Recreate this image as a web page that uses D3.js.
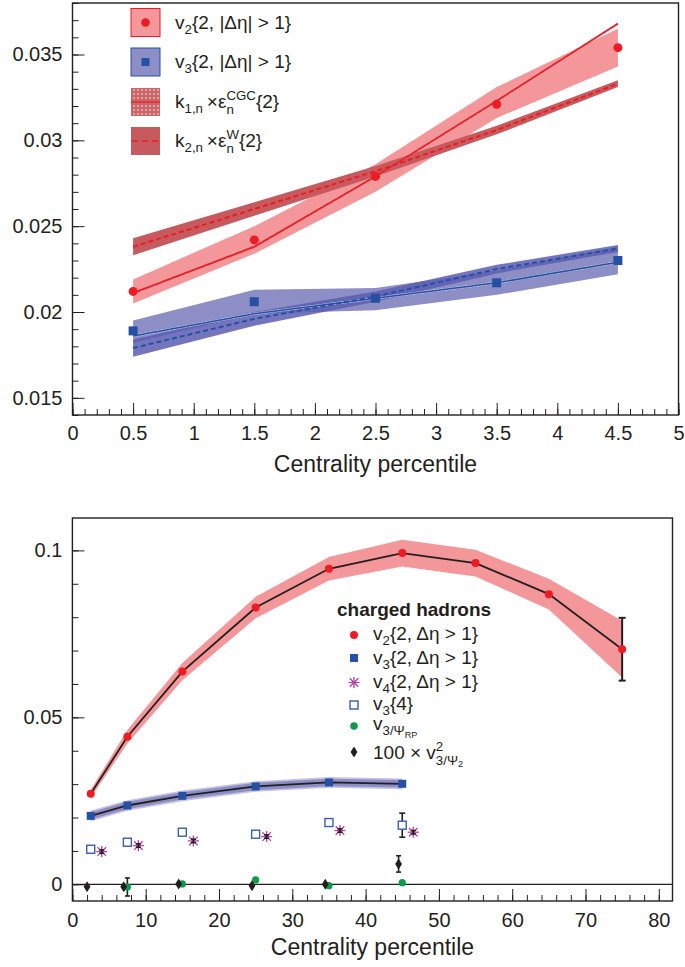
<!DOCTYPE html>
<html><head><meta charset="utf-8">
<script src="https://cdn.jsdelivr.net/npm/d3@7"></script>
<style>
body{margin:0;background:#fff}
svg{display:block}
text{font-family:"Liberation Sans",Arial,Helvetica,sans-serif;fill:#231f20}
</style>
</head><body>
<svg id="c" width="685" height="967"></svg>
<script>
// ================= TOP PANEL DATA =================
const topX      = [0.5, 1.5, 2.5, 3.5, 4.5];
const v2Top     = [0.0212, 0.0242, 0.0279, 0.0321, 0.0354];
const v2TopLo   = [0.0205, 0.0234, 0.0270, 0.0313, 0.0343];
const v2TopHi   = [0.0219, 0.0250, 0.0286, 0.0331, 0.0365];
const v3Top     = [0.0189, 0.0206, 0.0208, 0.0217, 0.0230];
const v3TopLo   = [0.0182, 0.0199, 0.0201, 0.0210, 0.0222];
const v3TopHi   = [0.0195, 0.0213, 0.0214, 0.0224, 0.0238];
const cgcV2     = [0.0211, 0.0238, 0.0279, 0.0323, 0.0368];
const cgcV3     = [0.0186, 0.0199, 0.0208, 0.0217, 0.0229];
const cgcErr    = [0.00007, 0.00007, 0.00007, 0.00007, 0.00007];
const wV2       = [0.0238, 0.0260, 0.0282, 0.0306, 0.0333];
const wV3       = [0.0179, 0.0196, 0.0209, 0.0225, 0.0237];
const wErr      = [0.0005, 0.0004, 0.0003, 0.00025, 0.0002];
const topXTicks = [0, 0.5, 1, 1.5, 2, 2.5, 3, 3.5, 4, 4.5, 5];
const topXLabels = ["0","0.5","1","1.5","2","2.5","3","3.5","4","4.5","5"];
const topYTicks = [0.015, 0.02, 0.025, 0.03, 0.035];
const topYLabels = ["0.015","0.02","0.025","0.03","0.035"];

// ================= BOTTOM PANEL DATA =================
const v2X   = [2.5, 7.5, 15, 25, 35, 45, 55, 65, 75];
const v2B   = [0.0271, 0.0442, 0.0637, 0.0829, 0.0945, 0.0992, 0.0962, 0.0869, 0.0704];
const v2Sys = [0.0012, 0.0020, 0.0026, 0.0032, 0.0035, 0.0040, 0.0040, 0.0046, 0.0085];
const v2Err = [0, 0, 0, 0, 0, 0, 0, 0, 0.0094];
const v3X   = [2.5, 7.5, 15, 25, 35, 45];
const v3B   = [0.0205, 0.0236, 0.0265, 0.0293, 0.0305, 0.0301];
const v3Sys = [0.0011, 0.0011, 0.0011, 0.0011, 0.0011, 0.0011];
const v4X   = [4, 9, 16.5, 26.5, 36.5, 46.5];
const v4B   = [0.0098, 0.0116, 0.0130, 0.0143, 0.0161, 0.0156];
const v4Err = [0.0005, 0.0005, 0.0005, 0.0005, 0.0005, 0.0005];
const v34X  = [2.5, 7.5, 15, 25, 35, 45];
const v34B  = [0.0105, 0.0126, 0.0156, 0.0150, 0.0185, 0.0177];
const v34Err= [0, 0, 0, 0.0008, 0.0010, 0.0036];
const rpX   = [7.5, 15, 25, 35, 45];
const rpB   = [-0.0008, 0.0001, 0.0013, -0.0004, 0.0005];
const rpErr = [0.0027, 0, 0, 0, 0];
const psX   = [2, 7, 14.5, 24.5, 34.5, 44.5];
const psB   = [-0.0007, -0.0007, 0.0001, -0.0004, 0.0000, 0.0061];
const psErr = [0, 0, 0, 0, 0, 0.00245];
const botXTicks = [0, 10, 20, 30, 40, 50, 60, 70, 80];
const botXLabels = ["0","10","20","30","40","50","60","70","80"];
const botYTicks = [0, 0.05, 0.1];
const botYLabels = ["0","0.05","0.1"];

// ================= COLOURS =================
const ink = '#231f20';
const red = '#ed1c24', pink = '#f4979a', darkRed = '#c65a5e';
const blue = '#2451a4', lightBlue = '#8e8ec6', darkBlue = '#5d5db2';
const magenta = '#b0449a', green = '#0b9b4a';
const FONT = '"Liberation Sans",Arial,Helvetica,sans-serif';

const svg = d3.select('#c');
const defs = svg.append('defs');
const pat = defs.append('pattern').attr('id','dotsR').attr('patternUnits','userSpaceOnUse')
  .attr('width',4).attr('height',4);
pat.append('rect').attr('width',4).attr('height',4).attr('fill','#c8676a');
pat.append('circle').attr('cx',2).attr('cy',2).attr('r',0.9).attr('fill','#f2b6b6');
const patB = defs.append('pattern').attr('id','dotsB').attr('patternUnits','userSpaceOnUse')
  .attr('width',4).attr('height',4);
patB.append('rect').attr('width',4).attr('height',4).attr('fill','#b9b9de');
patB.append('circle').attr('cx',2).attr('cy',2).attr('r',0.9).attr('fill','#ffffff');

// rich text helper (sub/sup)
function rich(g, x, y, parts, size, bold) {
  let cx = x;
  parts.forEach(p => {
    const k = p.k || 'n';
    if (k === 'ss') {
      const a = g.append('text').attr('x', cx).attr('y', y - size*0.42)
        .style('font-size', (size*0.7)+'px').text(p.sup);
      const b = g.append('text').attr('x', cx).attr('y', y + size*0.3)
        .style('font-size', (size*0.7)+'px').text(p.sub);
      cx += Math.max(a.node().getComputedTextLength(), b.node().getComputedTextLength());
    } else {
      let fs = size, dy = 0;
      if (k === 'sub') { fs = size*0.7; dy = size*0.28; }
      if (k === 'sup') { fs = size*0.7; dy = -size*0.42; }
      if (k === 'subsub') { fs = size*0.48; dy = size*0.4; }
      const t = g.append('text').attr('x', cx).attr('y', y + dy)
        .style('font-size', fs+'px').style('font-weight', bold ? 'bold' : null).text(p.t);
      cx += t.node().getComputedTextLength();
    }
  });
}

function styleAxis(g, fs) {
  g.select('.domain').remove();
  g.attr('font-family', FONT).attr('font-size', fs);
  g.selectAll('line').attr('stroke', ink).attr('stroke-width', 1);
  g.selectAll('text').attr('fill', ink);
}

// ================= TOP PANEL =================
const T = {l:72.5, r:678.5, t:3, b:415};
const xT = d3.scaleLinear().domain([0, 5]).range([T.l, T.r]);
const yT = d3.scaleLinear().domain([0.014, 0.038]).range([T.b, T.t]);
const gT = svg.append('g');

const band = (xs, xsc, ysc, lo, hi) => d3.area()
  .x((d,i) => xsc(xs[i])).y0((d,i) => ysc(lo[i])).y1((d,i) => ysc(hi[i]));
const lineOf = (xs, xsc, ysc) => d3.line().x((d,i) => xsc(xs[i])).y(d => ysc(d));

// data systematic bands
gT.append('path').attr('d', band(topX, xT, yT, v2TopLo, v2TopHi)(topX)).attr('fill', pink);
gT.append('path').attr('d', band(topX, xT, yT, v3TopLo, v3TopHi)(topX)).attr('fill', lightBlue);
// Wounded model bands
gT.append('path').attr('d', band(topX, xT, yT, wV2.map((v,i)=>v-wErr[i]), wV2.map((v,i)=>v+wErr[i]))(topX)).attr('fill', darkRed);
gT.append('path').attr('d', band(topX, xT, yT, wV3.map((v,i)=>v-wErr[i]), wV3.map((v,i)=>v+wErr[i]))(topX)).attr('fill', darkBlue).attr('opacity',0.85);
// CGC bands
gT.append('path').attr('d', band(topX, xT, yT, cgcV2.map((v,i)=>v-cgcErr[i]), cgcV2.map((v,i)=>v+cgcErr[i]))(topX)).attr('fill', 'url(#dotsR)');
gT.append('path').attr('d', band(topX, xT, yT, cgcV3.map((v,i)=>v-cgcErr[i]), cgcV3.map((v,i)=>v+cgcErr[i]))(topX)).attr('fill', 'url(#dotsB)');
// lines
gT.append('path').attr('d', lineOf(topX, xT, yT)(wV2)).attr('fill','none').attr('stroke', red).attr('stroke-width',2).attr('stroke-dasharray','5,3');
gT.append('path').attr('d', lineOf(topX, xT, yT)(wV3)).attr('fill','none').attr('stroke', blue).attr('stroke-width',2).attr('stroke-dasharray','5,3');
gT.append('path').attr('d', lineOf(topX, xT, yT)(cgcV2)).attr('fill','none').attr('stroke', red).attr('stroke-width',1.6);
gT.append('path').attr('d', lineOf(topX, xT, yT)(cgcV3)).attr('fill','none').attr('stroke', blue).attr('stroke-width',1.6);
// markers
gT.selectAll('.v2t').data(v2Top).enter().append('circle')
  .attr('cx', (d,i) => xT(topX[i])).attr('cy', d => yT(d)).attr('r', 4.5).attr('fill', red);
gT.selectAll('.v3t').data(v3Top).enter().append('rect')
  .attr('x', (d,i) => xT(topX[i]) - 4.5).attr('y', d => yT(d) - 4.5).attr('width', 9).attr('height', 9).attr('fill', blue);

// axes
const axTx = gT.append('g').attr('transform', `translate(0,${T.b})`)
  .call(d3.axisBottom(xT).tickValues(topXTicks).tickSize(-12).tickPadding(11).tickFormat((d,i)=>topXLabels[i]));
styleAxis(axTx, 20);
const axTxm = gT.append('g').attr('transform', `translate(0,${T.b})`)
  .call(d3.axisBottom(xT).tickValues(d3.range(0, 51).map(i => i/10)).tickSize(-6).tickFormat(''));
styleAxis(axTxm, 20);
const axTy = gT.append('g').attr('transform', `translate(${T.l},0)`)
  .call(d3.axisLeft(yT).tickValues(topYTicks).tickSize(-12).tickPadding(10).tickFormat((d,i)=>topYLabels[i]));
styleAxis(axTy, 20);
const axTym = gT.append('g').attr('transform', `translate(${T.l},0)`)
  .call(d3.axisLeft(yT).tickValues(d3.range(14, 39).map(i => i/1000)).tickSize(-6).tickFormat(''));
styleAxis(axTym, 20);
gT.append('rect').attr('x', T.l).attr('y', T.t).attr('width', T.r - T.l).attr('height', T.b - T.t)
  .attr('fill','none').attr('stroke', ink).attr('stroke-width', 1.4);
gT.append('text').attr('x', (T.l+T.r)/2).attr('y', 472).attr('text-anchor','middle')
  .style('font-size','23px').text('Centrality percentile');

// top legend
const lg = svg.append('g');
const bx = 131, bw = 29, bh = 28;
lg.append('rect').attr('x', bx).attr('y', 8.5).attr('width', bw).attr('height', bh).attr('fill', pink).attr('stroke', red).attr('stroke-width', 1);
lg.append('circle').attr('cx', bx + bw/2).attr('cy', 22.5).attr('r', 4.3).attr('fill', red);
lg.append('rect').attr('x', bx).attr('y', 48).attr('width', bw).attr('height', bh).attr('fill', lightBlue).attr('stroke', blue).attr('stroke-width', 1);
lg.append('rect').attr('x', bx + bw/2 - 4).attr('y', 58).attr('width', 8).attr('height', 8).attr('fill', blue);
lg.append('rect').attr('x', bx).attr('y', 88).attr('width', bw).attr('height', bh).attr('fill', 'url(#dotsR)');
lg.append('line').attr('x1', bx).attr('x2', bx + bw).attr('y1', 102).attr('y2', 102).attr('stroke', red).attr('stroke-width', 1.5);
lg.append('rect').attr('x', bx).attr('y', 127).attr('width', bw).attr('height', bh).attr('fill', darkRed);
lg.append('line').attr('x1', bx + 1).attr('x2', bx + bw).attr('y1', 141).attr('y2', 141).attr('stroke', red).attr('stroke-width', 1.5).attr('stroke-dasharray', '6,4');
rich(lg, 175, 29, [{t:'v'},{t:'2',k:'sub'},{t:'{2, |Δη| > 1}'}], 19);
rich(lg, 175, 68, [{t:'v'},{t:'3',k:'sub'},{t:'{2, |Δη| > 1}'}], 19);
rich(lg, 175, 108, [{t:'k'},{t:'1,n',k:'sub'},{t:'\u2009×ε'},{k:'ss',sup:'CGC',sub:'n'},{t:'{2}'}], 19);
rich(lg, 175, 147, [{t:'k'},{t:'2,n',k:'sub'},{t:'\u2009×ε'},{k:'ss',sup:'W',sub:'n'},{t:'{2}'}], 19);

// ================= BOTTOM PANEL =================
const B = {l:72.4, r:672.5, t:518, b:901};
const xB = d3.scaleLinear().domain([0, 81.87]).range([B.l, B.r]);
const yB = d3.scaleLinear().domain([-0.005, 0.1097]).range([B.b, B.t]);
const gB = svg.append('g');

// zero line
gB.append('line').attr('x1', B.l).attr('x2', B.r).attr('y1', yB(0)).attr('y2', yB(0)).attr('stroke', ink).attr('stroke-width', 1.2);

// bands
gB.append('path').attr('d', band(v2X, xB, yB, v2B.map((v,i)=>v-v2Sys[i]), v2B.map((v,i)=>v+v2Sys[i]))(v2X)).attr('fill', pink);
gB.append('path').attr('d', band(v3X, xB, yB, v3B.map((v,i)=>v-v3Sys[i]-0.0005), v3B.map((v,i)=>v+v3Sys[i]+0.0005))(v3X)).attr('fill', '#c3c3e3');
gB.append('path').attr('d', band(v3X, xB, yB, v3B.map((v,i)=>v-v3Sys[i]), v3B.map((v,i)=>v+v3Sys[i]))(v3X)).attr('fill', lightBlue);
// black lines
gB.append('path').attr('d', lineOf(v2X, xB, yB)(v2B)).attr('fill','none').attr('stroke', ink).attr('stroke-width', 1.8);
gB.append('path').attr('d', lineOf(v3X, xB, yB)(v3B)).attr('fill','none').attr('stroke', ink).attr('stroke-width', 1.8);

// error bars helper
function errBars(g, xs, ys, es, capW, sw) {
  ys.forEach((v, i) => {
    if (!es[i]) return;
    const x = xB(xs[i]), y1 = yB(v - es[i]), y2 = yB(v + es[i]);
    g.append('line').attr('x1', x).attr('x2', x).attr('y1', y1).attr('y2', y2).attr('stroke', ink).attr('stroke-width', sw);
    [y1, y2].forEach(yy => g.append('line').attr('x1', x - capW/2).attr('x2', x + capW/2).attr('y1', yy).attr('y2', yy).attr('stroke', ink).attr('stroke-width', sw));
  });
}

// v2 points
errBars(gB, v2X, v2B, v2Err, 7, 2);
gB.selectAll('.v2b').data(v2B).enter().append('circle')
  .attr('cx', (d,i) => xB(v2X[i])).attr('cy', d => yB(d)).attr('r', 4).attr('fill', red);
// v3 points
gB.selectAll('.v3b').data(v3B).enter().append('rect')
  .attr('x', (d,i) => xB(v3X[i]) - 4).attr('y', d => yB(d) - 4).attr('width', 8).attr('height', 8).attr('fill', blue);
// v4 asterisks
function asterisk(g, cx, cy, s, col) {
  const d = s*0.78;
  g.append('line').attr('x1',cx).attr('x2',cx).attr('y1',cy-s).attr('y2',cy+s).attr('stroke',col).attr('stroke-width',1.3);
  g.append('line').attr('x1',cx-s).attr('x2',cx+s).attr('y1',cy).attr('y2',cy).attr('stroke',col).attr('stroke-width',1.3);
  g.append('line').attr('x1',cx-d).attr('x2',cx+d).attr('y1',cy-d).attr('y2',cy+d).attr('stroke',col).attr('stroke-width',1.3);
  g.append('line').attr('x1',cx-d).attr('x2',cx+d).attr('y1',cy+d).attr('y2',cy-d).attr('stroke',col).attr('stroke-width',1.3);
}
v4B.forEach((v,i) => asterisk(gB, xB(v4X[i]), yB(v), 5.5, magenta));
errBars(gB, v4X, v4B, v4Err, 5, 1.6);
// v3{4} open squares
errBars(gB, v34X, v34B, v34Err, 6, 1.6);
gB.selectAll('.v34').data(v34B).enter().append('rect')
  .attr('x', (d,i) => xB(v34X[i]) - 4).attr('y', d => yB(d) - 4).attr('width', 8).attr('height', 8)
  .attr('fill', '#fff').attr('stroke', '#3b5daa').attr('stroke-width', 1.4);
// green v3/PsiRP
errBars(gB, rpX, rpB, rpErr, 5, 1.6);
gB.selectAll('.rp').data(rpB).enter().append('circle')
  .attr('cx', (d,i) => xB(rpX[i])).attr('cy', d => yB(d)).attr('r', 3.6).attr('fill', green);
// diamonds
errBars(gB, psX, psB, psErr, 5, 1.6);
const diamond = (cx, cy) => `M${cx},${cy-5.5}L${cx+3.4},${cy}L${cx},${cy+5.5}L${cx-3.4},${cy}Z`;
gB.selectAll('.ps').data(psB).enter().append('path')
  .attr('d', (d,i) => diamond(xB(psX[i]), yB(d))).attr('fill', ink);

// axes
const axBx = gB.append('g').attr('transform', `translate(0,${B.b})`)
  .call(d3.axisBottom(xB).tickValues(botXTicks).tickSize(-12).tickPadding(12).tickFormat((d,i)=>botXLabels[i]));
styleAxis(axBx, 20);
const axBxm = gB.append('g').attr('transform', `translate(0,${B.b})`)
  .call(d3.axisBottom(xB).tickValues(d3.range(0, 41).map(i => i*2)).tickSize(-6).tickFormat(''));
styleAxis(axBxm, 20);
const axBy = gB.append('g').attr('transform', `translate(${B.l},0)`)
  .call(d3.axisLeft(yB).tickValues(botYTicks).tickSize(-12).tickPadding(10).tickFormat((d,i)=>botYLabels[i]));
styleAxis(axBy, 20);
const axBym = gB.append('g').attr('transform', `translate(${B.l},0)`)
  .call(d3.axisLeft(yB).tickValues(d3.range(0, 11).map(i => i/100)).tickSize(-6).tickFormat(''));
styleAxis(axBym, 20);
gB.append('rect').attr('x', B.l).attr('y', B.t).attr('width', B.r - B.l).attr('height', B.b - B.t)
  .attr('fill','none').attr('stroke', ink).attr('stroke-width', 1.4);
gB.append('text').attr('x', (B.l+B.r)/2).attr('y', 955).attr('text-anchor','middle')
  .style('font-size','23px').text('Centrality percentile');

// bottom legend
const lb = svg.append('g');
rich(lb, 337, 616, [{t:'charged hadrons'}], 19, true);
const mx = 354;
lb.append('circle').attr('cx', mx).attr('cy', 635).attr('r', 4).attr('fill', red);
lb.append('rect').attr('x', mx-4).attr('y', 654).attr('width', 8).attr('height', 8).attr('fill', blue);
asterisk(lb, mx, 682.5, 5.5, magenta);
lb.append('rect').attr('x', mx-4).attr('y', 701).attr('width', 8).attr('height', 8).attr('fill','#fff').attr('stroke','#3b5daa').attr('stroke-width',1.4);
lb.append('circle').attr('cx', mx).attr('cy', 726).attr('r', 3.8).attr('fill', green);
lb.append('path').attr('d', diamond(mx, 752)).attr('fill', ink);
rich(lb, 373, 640, [{t:'v'},{t:'2',k:'sub'},{t:'{2, Δη > 1}'}], 19);
rich(lb, 373, 664, [{t:'v'},{t:'3',k:'sub'},{t:'{2, Δη > 1}'}], 19);
rich(lb, 373, 688, [{t:'v'},{t:'4',k:'sub'},{t:'{2, Δη > 1}'}], 19);
rich(lb, 373, 710, [{t:'v'},{t:'3',k:'sub'},{t:'{4}'}], 19);
rich(lb, 373, 730, [{t:'v'},{t:'3/Ψ',k:'sub'},{t:'RP',k:'subsub'}], 19);
rich(lb, 373, 759, [{t:'100 × v'},{k:'ss',sup:'2',sub:'3/Ψ'},{t:'2',k:'subsub'}], 19);
</script>
</body></html>
